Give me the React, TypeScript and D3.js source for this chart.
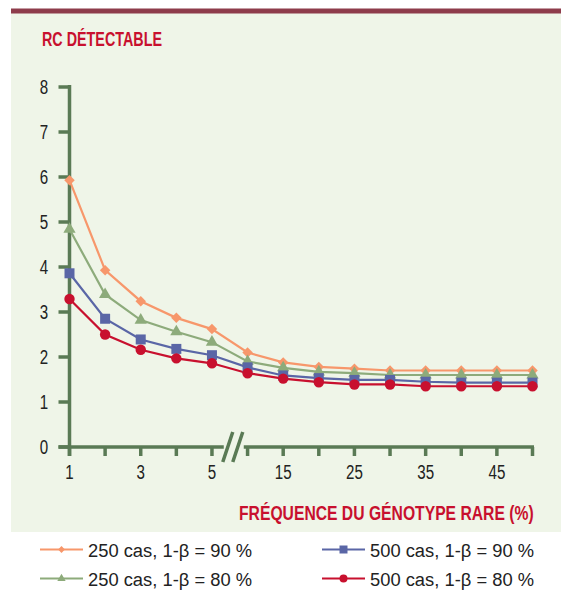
import React, { useEffect, useRef } from "react";
import * as d3 from "d3";

const frequencies = [1, 2, 3, 4, 5, 10, 15, 20, 25, 30, 35, 40, 45, 50];
const tickLabels = ["1", "3", "5", "15", "25", "35", "45"];
const yTicks = [0, 1, 2, 3, 4, 5, 6, 7, 8];

const s250_90 = [5.93, 3.93, 3.24, 2.87, 2.62, 2.1, 1.88, 1.78, 1.74, 1.7, 1.7, 1.7, 1.7, 1.7];
const s250_80 = [4.84, 3.39, 2.82, 2.56, 2.33, 1.9, 1.76, 1.67, 1.64, 1.6, 1.6, 1.6, 1.6, 1.6];
const s500_90 = [3.86, 2.85, 2.39, 2.18, 2.04, 1.77, 1.59, 1.53, 1.49, 1.49, 1.45, 1.43, 1.43, 1.43];
const s500_80 = [3.29, 2.5, 2.16, 1.97, 1.86, 1.64, 1.52, 1.44, 1.39, 1.39, 1.35, 1.35, 1.35, 1.35];

const series = [
  { label: "250 cas, 1-β = 90 %", values: s250_90, color: "#f7976b", shape: "diamond" },
  { label: "500 cas, 1-β = 90 %", values: s500_90, color: "#5a66a6", shape: "square" },
  { label: "250 cas, 1-β = 80 %", values: s250_80, color: "#8dab7b", shape: "triangle" },
  { label: "500 cas, 1-β = 80 %", values: s500_80, color: "#c8102e", shape: "circle" },
];

const symbolType: Record<string, d3.SymbolType> = {
  diamond: d3.symbolDiamond2,
  square: d3.symbolSquare,
  triangle: d3.symbolTriangle,
  circle: d3.symbolCircle,
};
const symbolSize: Record<string, number> = { diamond: 70, square: 100, triangle: 65, circle: 85 };
const legendSize: Record<string, number> = { diamond: 30, square: 64, triangle: 30, circle: 50 };

const FONT = "'Liberation Sans', Arial, sans-serif";
const AXIS = "#5a7a55";
const RED = "#c8102e";

export default function App() {
  const svgRef = useRef<SVGSVGElement | null>(null);

  useEffect(() => {
    if (!svgRef.current) return;
    const width = 561;
    const svg = d3.select(svgRef.current);
    svg.selectAll("*").remove();

    svg.append("rect").attr("x", 11).attr("y", 13).attr("width", width - 11).attr("height", 519).attr("fill", "#eff5e8");
    svg.append("rect").attr("x", 11).attr("y", 8.5).attr("width", width - 11).attr("height", 5).attr("fill", "#8e3c4b");

    svg.append("text").attr("x", 42).attr("y", 46).attr("fill", RED).attr("font-family", FONT)
      .attr("font-weight", "bold").attr("font-size", 20)
      .attr("textLength", 120).attr("lengthAdjust", "spacingAndGlyphs").text("RC DÉTECTABLE");

    const x = d3.scalePoint<number>().domain(frequencies).range([69.5, 532.5]);
    const y = d3.scaleLinear().domain([0, 8]).range([447, 87]);

    const numText = (sel: d3.Selection<SVGGElement, unknown, null, undefined>, tx: number, ty: number, t: string) => {
      sel.append("text").attr("transform", `translate(${tx},${ty}) scale(0.72,1)`).attr("text-anchor", "middle")
        .attr("font-family", FONT).attr("font-size", 21).attr("fill", "#222").text(t);
    };

    // y axis
    const g = svg.append("g");
    g.append("line").attr("x1", x(1)!).attr("x2", x(1)!).attr("y1", y(8) - 2).attr("y2", y(0) + 9)
      .attr("stroke", AXIS).attr("stroke-width", 3.5);
    yTicks.forEach((t) => {
      g.append("line").attr("x1", x(1)! - 11).attr("x2", x(1)!).attr("y1", y(t)).attr("y2", y(t))
        .attr("stroke", AXIS).attr("stroke-width", 3.5);
      numText(g, 44, y(t) + 7, String(t));
    });

    // x axis with break
    const mid = (x(5)! + x(10)!) / 2;
    g.append("line").attr("x1", x(1)! - 11).attr("x2", mid - 6).attr("y1", y(0)).attr("y2", y(0))
      .attr("stroke", AXIS).attr("stroke-width", 3.5);
    g.append("line").attr("x1", mid + 14).attr("x2", x(50)! + 1.5).attr("y1", y(0)).attr("y2", y(0))
      .attr("stroke", AXIS).attr("stroke-width", 3.5);
    [-2, 8].forEach((o) => {
      g.append("line").attr("x1", mid + o - 5).attr("y1", y(0) + 15).attr("x2", mid + o + 5).attr("y2", y(0) - 15)
        .attr("stroke", AXIS).attr("stroke-width", 3.5);
    });
    frequencies.forEach((f) => {
      g.append("line").attr("x1", x(f)!).attr("x2", x(f)!).attr("y1", y(0)).attr("y2", y(0) + 9)
        .attr("stroke", AXIS).attr("stroke-width", 3.5);
    });
    tickLabels.forEach((l) => numText(g, x(+l)!, 479, l));

    svg.append("text").attr("transform", "translate(239,520) scale(0.785,1)").attr("fill", RED)
      .attr("font-family", FONT).attr("font-weight", "bold").attr("font-size", 20)
      .text("FRÉQUENCE DU GÉNOTYPE RARE (%)");

    const line = d3.line<number>().x((_, i) => x(frequencies[i])!).y((d) => y(d));
    const drawOrder = [series[0], series[2], series[1], series[3]];
    drawOrder.forEach((s) => {
      svg.append("path").datum(s.values).attr("fill", "none").attr("stroke", s.color)
        .attr("stroke-width", 2.2).attr("d", line);
    });
    drawOrder.forEach((s) => {
      svg.append("g").selectAll("path").data(s.values).join("path")
        .attr("transform", (d, i) => `translate(${x(frequencies[i])},${y(d)})`)
        .attr("d", d3.symbol().type(symbolType[s.shape]).size(symbolSize[s.shape])())
        .attr("fill", s.color);
    });

    // legend
    series.forEach((s, i) => {
      const lx = i % 2 === 0 ? 40 : 322;
      const ly = i < 2 ? 549.5 : 578.5;
      svg.append("line").attr("x1", lx).attr("x2", lx + 43).attr("y1", ly).attr("y2", ly)
        .attr("stroke", s.color).attr("stroke-width", 2.2);
      svg.append("path").attr("transform", `translate(${lx + 21.5},${ly})`)
        .attr("d", d3.symbol().type(symbolType[s.shape]).size(legendSize[s.shape])())
        .attr("fill", s.color);
      svg.append("text").attr("x", lx + 48).attr("y", ly + 7.5).attr("font-family", FONT)
        .attr("font-size", 18).attr("textLength", 164).attr("lengthAdjust", "spacingAndGlyphs")
        .attr("fill", "#222").text(s.label);
    });
  }, []);

  return (
    <svg ref={svgRef} width={561} height={590} style={{ position: "absolute", left: 0, top: 0, background: "#fff" }} />
  );
}
